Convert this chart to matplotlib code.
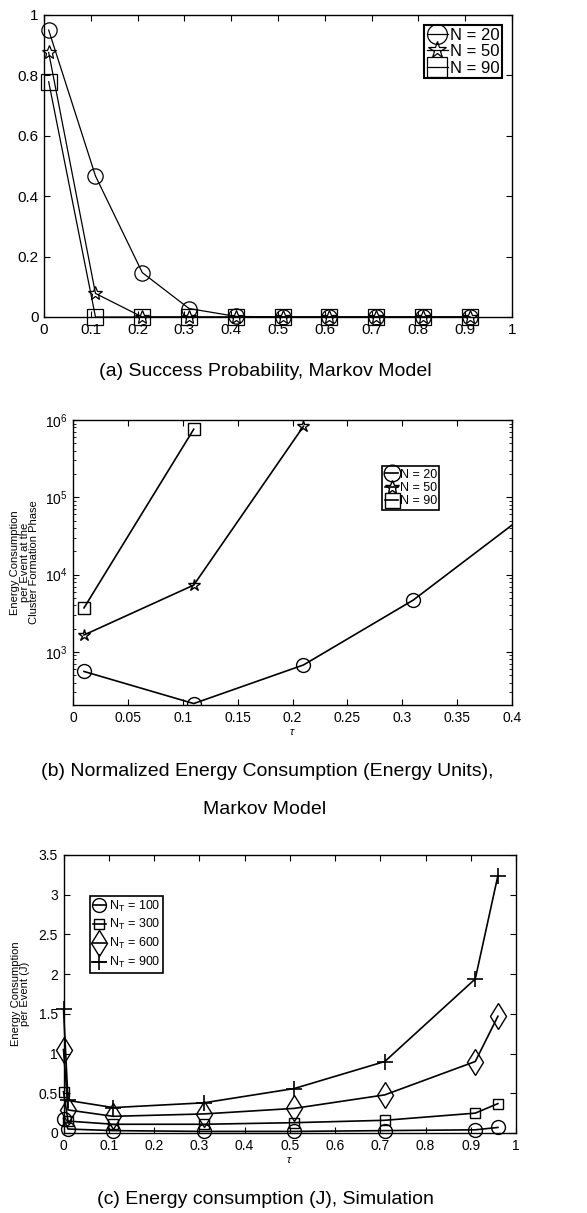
import matplotlib
matplotlib.use("Agg")
import matplotlib.pyplot as plt
from matplotlib.ticker import FormatStrFormatter, LogLocator, NullFormatter
import numpy as np

plt.rcParams['font.family'] = ['Liberation Sans', 'DejaVu Sans']
plt.rcParams['mathtext.fontset'] = 'custom'
plt.rcParams['mathtext.rm'] = 'Liberation Sans'
plt.rcParams['mathtext.it'] = 'Liberation Sans:italic'

# (a) success probability, Markov model
tau_a = [0.01, 0.11, 0.21, 0.31, 0.41, 0.51, 0.61, 0.71, 0.81, 0.91]
succ_n20 = [0.95, 0.467, 0.147, 0.028, 0.002, 0, 0, 0, 0, 0]
succ_n50 = [0.876, 0.078, 0, 0, 0, 0, 0, 0, 0, 0]
succ_n90 = [0.779, 0, 0, 0, 0, 0, 0, 0, 0, 0]

# (b) normalized energy, Markov model (log scale)
tau_b20 = [0.01, 0.11, 0.21, 0.31, 0.41]
energy_n20 = [557, 214, 676, 4670, 56000]
tau_b50 = [0.01, 0.11, 0.21]
energy_n50 = [1650, 7300, 830000]
tau_b90 = [0.01, 0.11]
energy_n90 = [3700, 760000]

# (c) energy consumption from simulation
tau_c = [0, 0.01, 0.11, 0.31, 0.51, 0.71, 0.91, 0.96]
energy_t100 = [0.18, 0.05, 0.03, 0.02, 0.02, 0.03, 0.04, 0.07]
energy_t300 = [0.52, 0.15, 0.11, 0.11, 0.13, 0.16, 0.25, 0.37]
energy_t600 = [1.05, 0.29, 0.21, 0.24, 0.31, 0.48, 0.90, 1.47]
energy_t900 = [1.56, 0.41, 0.32, 0.38, 0.56, 0.90, 1.94, 3.24]

W, H = 587, 1213
fig = plt.figure(figsize=(W / 100, H / 100), dpi=100)


def box(l, r, t, b):
    return [l / W, 1 - b / H, (r - l) / W, (b - t) / H]


def matlab_axes(ax, fs):
    ax.tick_params(direction='in', top=True, right=True, labelsize=fs,
                   length=4, width=0.8, pad=4)
    ax.tick_params(which='minor', direction='in', top=True, right=True, length=2)
    for s in ax.spines.values():
        s.set_linewidth(1.0)


# ---- panel a
ax1 = fig.add_axes(box(44, 512, 15, 317))
ax1.plot(tau_a, succ_n20, 'k-o', mfc='none', ms=11, lw=0.9, mew=0.9, clip_on=False, label='N = 20')
ax1.plot(tau_a, succ_n50, 'k-*', mfc='none', ms=10, lw=0.9, mew=0.9, clip_on=False, label='N = 50')
ax1.plot(tau_a, succ_n90, 'k-s', mfc='none', ms=11, lw=0.9, mew=0.9, clip_on=False, label='N = 90')
ax1.set_xlim(0, 1)
ax1.set_ylim(0, 1)
ax1.set_xticks(np.arange(0, 1.01, 0.1))
ax1.set_yticks(np.arange(0, 1.01, 0.2))
ax1.xaxis.set_major_formatter(FormatStrFormatter('%g'))
ax1.yaxis.set_major_formatter(FormatStrFormatter('%g'))
matlab_axes(ax1, 11)
leg = ax1.legend(loc='upper right', fontsize=12, markerscale=1.3, handlelength=1.3,
                 handletextpad=0.1, borderpad=0.15, labelspacing=0.1,
                 borderaxespad=0.6, fancybox=False, edgecolor='k', framealpha=1)
leg.get_frame().set_linewidth(1.5)
fig.text(265 / W, 1 - 372 / H, '(a) Success Probability, Markov Model',
         ha='center', va='center', fontsize=14)

# ---- panel b
ax2 = fig.add_axes(box(73, 512, 420, 705))
ax2.plot(tau_b20, energy_n20, 'k-o', mfc='none', ms=10, lw=1.2, mew=1.0, label='N = 20')
ax2.plot(tau_b50, energy_n50, 'k-*', mfc='none', ms=9, lw=1.2, mew=1.0, clip_on=False, label='N = 50')
ax2.plot(tau_b90, energy_n90, 'k-s', mfc='none', ms=9, lw=1.2, mew=1.0, clip_on=False, label='N = 90')
ax2.set_yscale('log')
ax2.set_xlim(0, 0.4)
ax2.set_ylim(205, 1e6)
ax2.set_xticks(np.arange(0, 0.401, 0.05))
ax2.xaxis.set_major_formatter(FormatStrFormatter('%g'))
ax2.yaxis.set_major_locator(LogLocator(base=10, numticks=10))
ax2.yaxis.set_minor_locator(LogLocator(base=10, subs=np.arange(2, 10), numticks=10))
ax2.yaxis.set_minor_formatter(NullFormatter())
matlab_axes(ax2, 10)
ax2.set_xlabel(r'$\tau$', fontsize=8, labelpad=2)
ax2.set_ylabel('Energy Consumption\nper Event at the\nCluster Formation Phase',
               fontsize=8, linespacing=0.95, labelpad=4)
leg = ax2.legend(loc='upper left', bbox_to_anchor=(0.69, 0.86), fontsize=9,
                 markerscale=1.2, handlelength=1.1, handletextpad=0.1,
                 borderpad=0.2, labelspacing=0.1, fancybox=False,
                 edgecolor='k', framealpha=1)
leg.get_frame().set_linewidth(1.2)
fig.text(267 / W, 1 - 772 / H, '(b) Normalized Energy Consumption (Energy Units),',
         ha='center', va='center', fontsize=14)
fig.text(265 / W, 1 - 810 / H, 'Markov Model', ha='center', va='center', fontsize=14)

# ---- panel c
ax3 = fig.add_axes(box(63.5, 516, 855, 1133))
ax3.plot(tau_c, energy_t100, 'k-o', mfc='none', ms=10, lw=1.2, mew=1.0, clip_on=False, label=r'$\mathregular{N_T}$ = 100')
ax3.plot(tau_c, energy_t300, 'k-s', mfc='none', ms=7, lw=1.2, mew=1.0, clip_on=False, label=r'$\mathregular{N_T}$ = 300')
ax3.plot(tau_c, energy_t600, 'k-d', mfc='none', ms=13, lw=1.2, mew=1.0, clip_on=False, label=r'$\mathregular{N_T}$ = 600')
ax3.plot(tau_c, energy_t900, 'k-+', mfc='none', ms=12, lw=1.2, mew=1.2, clip_on=False, label=r'$\mathregular{N_T}$ = 900')
ax3.set_xlim(0, 1)
ax3.set_ylim(0, 3.5)
ax3.set_xticks(np.arange(0, 1.01, 0.1))
ax3.set_yticks(np.arange(0, 3.51, 0.5))
ax3.xaxis.set_major_formatter(FormatStrFormatter('%g'))
ax3.yaxis.set_major_formatter(FormatStrFormatter('%g'))
matlab_axes(ax3, 10)
ax3.set_xlabel(r'$\tau$', fontsize=8, labelpad=2)
ax3.set_ylabel('Energy Consumption\nper Event (J)', fontsize=8, linespacing=0.95, labelpad=6)
leg = ax3.legend(loc='upper left', bbox_to_anchor=(0.045, 0.875), fontsize=9,
                 markerscale=1.0, handlelength=1.1, handletextpad=0.2,
                 borderpad=0.2, labelspacing=0.3, fancybox=False,
                 edgecolor='k', framealpha=1)
leg.get_frame().set_linewidth(1.2)
fig.text(265 / W, 1 - 1200 / H, '(c) Energy consumption (J), Simulation',
         ha='center', va='center', fontsize=14)

fig.savefig('out.png', dpi=100)
